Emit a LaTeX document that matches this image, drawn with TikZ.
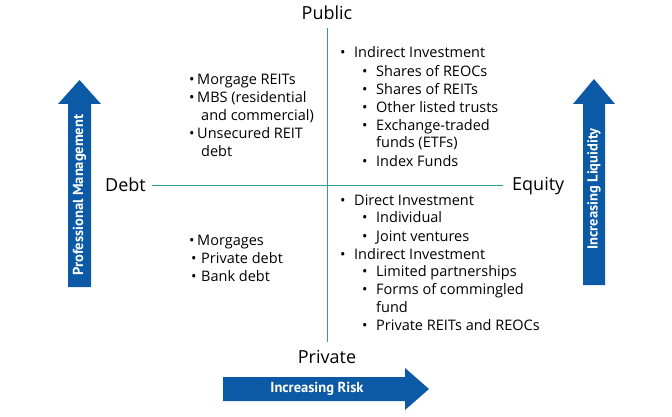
\documentclass[tikz,border=0pt]{standalone}
\usepackage{fontspec}
\setmainfont{Open Sans}
\newfontfamily\arrowfont{PT Sans}
\definecolor{axisc}{RGB}{45,160,150}
\definecolor{arrowc}{RGB}{12,90,166}
\begin{document}
\begin{tikzpicture}[x=1pt,y=-1pt,
  lbl/.style={font=\fontsize{18}{20}\selectfont, inner sep=0pt},
  itm/.style={font=\fontsize{14.5}{18}\selectfont, anchor=base west, inner sep=0pt},
  arr/.style={fill=arrowc, draw=none},
  arrtext/.style={font=\arrowfont\fontsize{14.5}{16}\selectfont\bfseries, text=white, inner sep=0pt},
  axis/.style={draw=axisc, line width=1pt}]
\useasboundingbox (0,0) rectangle (672,417);
% axes
\coordinate (vt) at (327,28);
\coordinate (vb) at (327,342);
\coordinate (hl) at (152,185);
\coordinate (hr) at (503,185);
\draw[axis] (vt) -- (vb);
\draw[axis] (hl) -- (hr);
% axis labels
\node[lbl, anchor=base] (public) at (327,20) {Public};
\node[lbl, anchor=base] (private) at (327,363) {Private};
\node[lbl, anchor=base east] (debt) at (146,191) {Debt};
\node[lbl, anchor=base west] (equity) at (512,190) {Equity};
% arrows
\fill[arr] (68,287) -- (68,104) -- (58,104) -- (79.5,80) -- (101,104) -- (91,104) -- (91,287) -- cycle;
\node[arrtext, rotate=90] (pm) at (79.5,195) {Professional Management};
\fill[arr] (583,285) -- (583,104) -- (573,104) -- (594,79) -- (615,104) -- (605,104) -- (605,285) -- cycle;
\node[arrtext, rotate=90] (il) at (594,189) {Increasing Liquidity};
\fill[arr] (223,377) -- (405,377) -- (405,368) -- (429,389) -- (405,410) -- (405,401) -- (223,401) -- cycle;
\node[arrtext] (ir) at (317,389) {Increasing Risk};
% top-left
\node[itm] (a1b) at (189,85) {\textbullet};
\node[itm] (a1) at (197,85) {Morgage REITs};
\node[itm] (a2b) at (189,103) {\textbullet};
\node[itm] (a2) at (197,103) {MBS (residential};
\node[itm] (a2c) at (201,121) {and commercial)};
\node[itm] (a3b) at (189,139) {\textbullet};
\node[itm] (a3) at (197,139) {Unsecured REIT};
\node[itm] (a3c) at (201,157) {debt};
% bottom-left
\node[itm] (b1b) at (189,245) {\textbullet};
\node[itm] (b1) at (197,245) {Morgages};
\node[itm] (b2b) at (191,263) {\textbullet};
\node[itm] (b2) at (201,263) {Private debt};
\node[itm] (b3b) at (191,281) {\textbullet};
\node[itm] (b3) at (201,281) {Bank debt};
% top-right
\node[itm] (c0b) at (340,58) {\textbullet};
\node[itm] (c0) at (354,58) {Indirect Investment};
\node[itm] (c1b) at (362,77) {\textbullet};
\node[itm] (c1) at (376,77) {Shares of REOCs};
\node[itm] (c2b) at (362,95) {\textbullet};
\node[itm] (c2) at (376,95) {Shares of REITs};
\node[itm] (c3b) at (362,113) {\textbullet};
\node[itm] (c3) at (376,113) {Other listed trusts};
\node[itm] (c4b) at (362,131) {\textbullet};
\node[itm] (c4) at (376,131) {Exchange-traded};
\node[itm] (c4c) at (376,148) {funds (ETFs)};
\node[itm] (c5b) at (362,166) {\textbullet};
\node[itm] (c5) at (376,166) {Index Funds};
% bottom-right
\node[itm] (d0b) at (340,205) {\textbullet};
\node[itm] (d0) at (354,205) {Direct Investment};
\node[itm] (d1b) at (362,222) {\textbullet};
\node[itm] (d1) at (376,222) {Individual};
\node[itm] (d2b) at (362,241) {\textbullet};
\node[itm] (d2) at (376,241) {Joint ventures};
\node[itm] (d3b) at (340,259) {\textbullet};
\node[itm] (d3) at (354,259) {Indirect Investment};
\node[itm] (d4b) at (362,276) {\textbullet};
\node[itm] (d4) at (376,276) {Limited partnerships};
\node[itm] (d5b) at (362,294) {\textbullet};
\node[itm] (d5) at (376,294) {Forms of commingled};
\node[itm] (d5c) at (376,312) {fund};
\node[itm] (d6b) at (362,330) {\textbullet};
\node[itm] (d6) at (376,330) {Private REITs and REOCs};
\end{tikzpicture}
\end{document}
